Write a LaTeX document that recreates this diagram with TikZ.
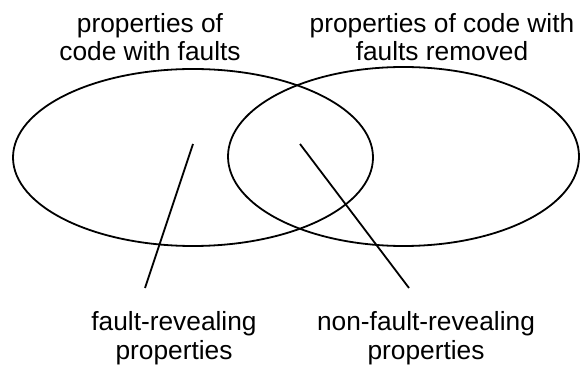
\documentclass[tikz,border=0pt]{standalone}
\usepackage{fontspec}
\setmainfont{Liberation Sans}
\usetikzlibrary{shapes.geometric}
\begin{document}
\begin{tikzpicture}[x=1pt,y=1pt,
  label/.style={font=\fontsize{26.3}{28.3}\selectfont, align=center, inner sep=0pt, anchor=base},
  setshape/.style={draw, ellipse, line width=1.8pt, inner sep=0pt},
  pointer/.style={draw, line width=1.8pt}]
\useasboundingbox (0,0) rectangle (580,369);
\node[setshape, minimum width=360pt, minimum height=177pt] (faulty) at (193,211.5) {};
\node[setshape, minimum width=351pt, minimum height=179pt] (fixed) at (403.5,212.5) {};
\node[label] (tl) at (150,308) {properties of\\code with faults};
\node[label] (tr) at (442,308) {properties of code with\\faults removed};
\node[label] (bl) at (174,10) {fault-revealing\\properties};
\node[label] (br) at (426,10) {non-fault-revealing\\properties};
\coordinate (p1) at (193,225);
\coordinate (q1) at (145,81);
\coordinate (p2) at (300,225);
\coordinate (q2) at (409,81);
\draw[pointer] (p1) -- (q1);
\draw[pointer] (p2) -- (q2);
\end{tikzpicture}
\end{document}
